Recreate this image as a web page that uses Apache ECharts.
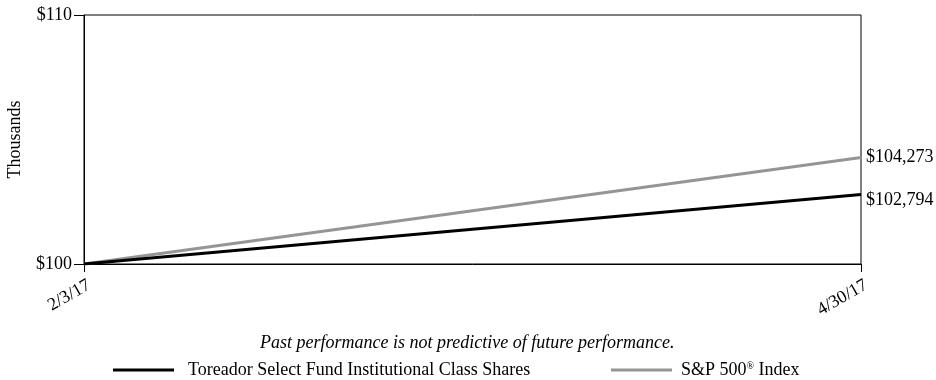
<!DOCTYPE html>
<html>
<head>
<meta charset="utf-8">
<script src="https://cdn.jsdelivr.net/npm/echarts@6/dist/echarts.min.js"></script>
<style>
  html, body { margin: 0; padding: 0; background: #fff; }
  #chart { width: 936px; height: 380px; }
</style>
</head>
<body>
<div id="chart"></div>
<script>
// Growth of a $100,000 investment (values in thousands)
const dates = ['2/3/17', '4/30/17'];
const fundName = 'Toreador Select Fund Institutional Class Shares';
const indexName = 'S&P 500® Index';
const fundValues = [100, 102.794];
const indexValues = [100, 104.273];
const yTicks = [100, 110];

const FONT = '"Liberation Serif", "Times New Roman", serif';
const FS = 18;

function money(v) {
  return '$' + Math.round(v * 1000).toLocaleString('en-US');
}

const chart = echarts.init(document.getElementById('chart'));
chart.setOption({
  animation: false,
  textStyle: { fontFamily: FONT, color: '#000' },
  title: {
    text: 'Past performance is not predictive of future performance.',
    left: 260, top: 334, padding: 0,
    textStyle: { fontFamily: FONT, fontSize: FS, fontStyle: 'italic', fontWeight: 'normal', color: '#000' }
  },
  legend: [
    {
      data: [fundName], left: 113, top: 361, itemWidth: 61, itemHeight: 3,
      icon: 'rect', padding: 0,
      textStyle: { fontFamily: FONT, fontSize: FS, color: '#000', padding: [0, 0, 0, 9] }
    },
    {
      data: [indexName], left: 611, top: 361, itemWidth: 61, itemHeight: 3,
      icon: 'rect', padding: 0,
      formatter: () => '{a|S&P 500}{s|®}{a| Index}',
      textStyle: {
        fontFamily: FONT, fontSize: FS, color: '#000', padding: [0, 0, 0, 4],
        rich: {
          a: { fontFamily: FONT, fontSize: FS, color: '#000' },
          s: { fontFamily: FONT, fontSize: 10, color: '#000', verticalAlign: 'top', padding: [0, 0, 7, 0] }
        }
      }
    }
  ],
  grid: {
    left: 84, right: 75, top: 15, bottom: 116,
    outerBoundsMode: 'none',
    show: true, borderColor: '#000', borderWidth: 1, backgroundColor: 'transparent'
  },
  xAxis: {
    type: 'category', data: dates, boundaryGap: false,
    axisLine: { lineStyle: { color: '#000', width: 1 } },
    axisTick: { show: true, length: 8, lineStyle: { color: '#000' } },
    axisLabel: { rotate: 30, margin: 23, padding: [0, -6, 0, 0], fontFamily: FONT, fontSize: FS, color: '#000', interval: 0 },
    splitLine: { show: false }
  },
  yAxis: {
    type: 'value', min: yTicks[0], max: yTicks[yTicks.length - 1],
    interval: yTicks[1] - yTicks[0],
    name: 'Thousands', nameLocation: 'middle', nameRotate: 90, nameGap: 60,
    nameTextStyle: { fontFamily: FONT, fontSize: FS, color: '#000' },
    axisLine: { show: true, lineStyle: { color: '#000', width: 1 } },
    axisTick: { show: true, length: 10, lineStyle: { color: '#000' } },
    axisLabel: { margin: 12, fontFamily: FONT, fontSize: FS, color: '#000', formatter: v => '$' + v },
    splitLine: { show: false }
  },
  series: [
    {
      name: indexName, type: 'line', data: indexValues,
      symbol: 'none', lineStyle: { color: '#959595', width: 3 }, itemStyle: { color: '#959595' }, z: 2,
      endLabel: { show: true, distance: 5, formatter: p => money(p.value),
        fontFamily: FONT, fontSize: FS, color: '#000' }
    },
    {
      name: fundName, type: 'line', data: fundValues,
      symbol: 'none', lineStyle: { color: '#000', width: 3 }, itemStyle: { color: '#000' }, z: 3,
      endLabel: { show: true, distance: 5, offset: [0, 6], formatter: p => money(p.value),
        fontFamily: FONT, fontSize: FS, color: '#000' }
    }
  ]
});
</script>
</body>
</html>
